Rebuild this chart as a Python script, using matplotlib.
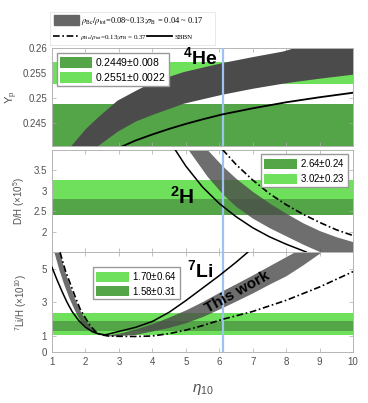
import numpy as np
import matplotlib.pyplot as plt
from matplotlib.patches import Patch, Rectangle
from matplotlib.lines import Line2D
from matplotlib.font_manager import FontProperties

plt.rcParams['font.family'] = ['Liberation Sans', 'DejaVu Sans']
plt.rcParams['mathtext.fontset'] = 'custom'
plt.rcParams['mathtext.rm'] = 'Liberation Sans'
plt.rcParams['mathtext.it'] = 'Liberation Sans:italic'
plt.rcParams['mathtext.bf'] = 'Liberation Sans:bold'

# ---- data ----
eta_ticks = [1, 2, 3, 4, 5, 6, 7, 8, 9, 10]
eta_obs = 6.1

# 4He
he_band_labels = ['0.2449$\\pm$0.008', '0.2551$\\pm$0.0022']
he_band_lo = [0.2369, 0.2529]
he_band_hi = [0.2489, 0.2573]
he_sbbn_eta = [3.09, 3.5, 4.0, 4.5, 5.0, 5.5, 6.1, 7.0, 8.0, 9.0, 10.0]
he_sbbn = [0.2404, 0.2416, 0.2428, 0.2439, 0.2449, 0.2458, 0.2468, 0.2480, 0.2492, 0.2502, 0.2511]
he_eta = [1.54, 2.0, 2.35, 2.94, 3.5, 4.0, 4.92, 5.43, 6.08, 7.0, 7.9, 8.2, 9.0, 10.0]
he_up = [0.2404, 0.2440, 0.2462, 0.2496, 0.2516, 0.2533, 0.2553, 0.2561, 0.2571, 0.2583, 0.2594, 0.2600, 0.2610, 0.2622]
he_low = [0.2362, 0.2385, 0.2405, 0.2434, 0.2455, 0.2468, 0.2490, 0.2498, 0.2508, 0.2520, 0.2530, 0.2533, 0.2540, 0.2548]

# D/H
dh_band_labels = ['2.64$\\pm$0.24', '3.02$\\pm$0.23']
dh_band_lo = [2.40, 2.79]
dh_band_hi = [2.88, 3.25]
dh_sbbn_eta = [4.68, 5.0, 5.5, 6.0, 6.5, 7.0, 7.5, 8.0, 8.6]
dh_sbbn = [4.0, 3.60, 3.09, 2.69, 2.37, 2.10, 1.88, 1.70, 1.51]
dh_dd_eta = [6.1, 6.5, 7.0, 7.5, 8.0, 8.5, 9.0, 9.5, 10.0]
dh_dd = [4.0, 3.64, 3.26, 2.93, 2.66, 2.43, 2.23, 2.05, 1.91]
dh_eta = [5.07, 5.64, 6.1, 6.5, 7.0, 7.5, 8.0, 8.5, 9.0, 9.5, 10.0]
dh_up = [4.66, 4.0, 3.6, 3.3, 2.98, 2.7, 2.45, 2.22, 2.03, 1.88, 1.76]
dh_low = [4.0, 3.35, 2.92, 2.62, 2.33, 2.1, 1.9, 1.7, 1.52, 1.38, 1.25]

# 7Li
li_band_labels = ['1.70$\\pm$0.64', '1.58$\\pm$0.31']
li_band_lo = [1.06, 1.27]
li_band_hi = [2.34, 1.89]
li_sbbn_eta = [1.0, 1.15, 1.3, 1.45, 1.6, 1.8, 2.0, 2.2, 2.4, 2.6, 3.0, 3.5, 4.0, 4.5, 5.0, 5.5, 6.0, 6.5, 6.85]
li_sbbn = [5.1, 4.35, 3.65, 3.0, 2.45, 1.9, 1.5, 1.25, 1.1, 1.05, 1.25, 1.5, 1.85, 2.4, 3.1, 3.85, 4.6, 5.4, 6.0]
li_dd_eta = [1.24, 1.4, 1.54, 1.7, 1.84, 2.0, 2.14, 2.3, 2.45, 2.7, 3.0, 3.5, 4.0, 4.5, 5.0, 5.5, 6.1, 7.0, 8.0, 9.0, 10.0]
li_dd = [6.0, 4.9, 4.15, 3.3, 2.6, 2.05, 1.6, 1.25, 1.05, 0.98, 0.96, 0.95, 0.98, 1.12, 1.33, 1.6, 1.98, 2.45, 3.12, 3.92, 4.84]
# left (falling) part of the grey band, as eta range at each Li value
li_left_y = [6.0, 5.0, 4.15, 3.3, 2.54, 1.9, 1.44, 1.2, 1.05]
li_left_a = [1.06, 1.2, 1.34, 1.5, 1.67, 1.84, 2.02, 2.2, 2.45]
li_left_b = [1.22, 1.36, 1.5, 1.66, 1.83, 2.0, 2.18, 2.35, 2.65]
# right (rising) part
li_eta = [2.6, 3.0, 3.5, 4.0, 4.5, 5.0, 5.5, 6.0, 6.5, 7.0, 7.5, 8.0, 8.5, 9.0, 9.3]
li_up = [1.02, 1.15, 1.4, 1.72, 2.12, 2.55, 3.05, 3.6, 4.12, 4.65, 5.2, 5.75, 6.3, 6.8, 7.1]
li_low = [0.98, 1.0, 1.08, 1.28, 1.5, 1.78, 2.15, 2.6, 3.08, 3.57, 4.1, 4.6, 5.25, 5.95, 6.35]

dark_green = '#53a548'
light_green = '#6fe05b'
grey = '#4a4a4a'
blue = '#9ec3f0'
tick_col = '#505050'
dashdot = (0, (4, 1.6, 1, 1.6))

fig = plt.figure(figsize=(3.68, 4.03), dpi=100)
ax1 = fig.add_axes([0.1413, 0.6377, 0.818, 0.2432])
ax2 = fig.add_axes([0.1413, 0.3737, 0.818, 0.2551])
ax3 = fig.add_axes([0.1413, 0.1258, 0.818, 0.2481])

leg_kw = dict(handleheight=1.2, borderpad=0.3, labelspacing=0.25, handletextpad=0.3,
              fancybox=False, edgecolor='#999999', framealpha=1)

# 4He
ax1.axhspan(he_band_lo[0], he_band_hi[0], color=dark_green, lw=0, label=he_band_labels[0], zorder=1)
ax1.axhspan(he_band_lo[1], he_band_hi[1], color=light_green, lw=0, label=he_band_labels[1], zorder=1)
ax1.fill_between(he_eta, he_low, he_up, color='#4b4b4b', lw=0, zorder=2)
ax1.plot(he_sbbn_eta, he_sbbn, color='k', lw=1.3, zorder=4)
ax1.set_ylim(0.2405, 0.26)
ax1.set_yticks([0.245, 0.25, 0.255, 0.26])
ax1.set_yticklabels(['0.245', '0.25', '0.255', '0.26'])
ax1.set_ylabel('Y$_{\\rm p}$', color=tick_col, fontsize=8)
ax1.yaxis.set_label_coords(-0.105, 0.5)
ax1.text(5.43, 0.2581, '$^{\\bf 4}$He', fontsize=14, fontweight='bold', ha='center', va='center', zorder=6)
ax1.legend(loc='upper left', fontsize=7.5, handlelength=3.0, **leg_kw).set_zorder(7)

# D/H
ax2.axhspan(dh_band_lo[0], dh_band_hi[0], color=dark_green, lw=0, label=dh_band_labels[0], zorder=1)
ax2.axhspan(dh_band_lo[1], dh_band_hi[1], color=light_green, lw=0, label=dh_band_labels[1], zorder=1)
ax2.fill_between(dh_eta, dh_low, dh_up, color=grey, alpha=0.8, lw=0, zorder=2)
ax2.plot(dh_sbbn_eta, dh_sbbn, color='k', lw=1.1, zorder=4)
ax2.plot(dh_dd_eta, dh_dd, color='k', lw=1.2, ls=dashdot, zorder=4)
ax2.set_ylim(1.5, 4.0)
ax2.set_yticks([2, 2.5, 3, 3.5])
ax2.set_yticklabels(['2', '2.5', '3', '3.5'])
ax2.set_ylabel('D/H ($\\times10^{5}$)', color=tick_col, fontsize=7)
ax2.yaxis.set_label_coords(-0.083, 0.5)
ax2.text(4.9, 2.86, '$^{\\bf 2}$H', fontsize=15, fontweight='bold', ha='center', va='center', zorder=6)
ax2.legend(loc='upper right', fontsize=7, handlelength=3.4, **leg_kw).set_zorder(7)

# 7Li
ax3.axhspan(li_band_lo[0], li_band_hi[0], color=light_green, lw=0, label=li_band_labels[0], zorder=1)
ax3.axhspan(li_band_lo[1], li_band_hi[1], color=dark_green, lw=0, label=li_band_labels[1], zorder=1)
ax3.fill_betweenx(li_left_y, li_left_a, li_left_b, color=grey, alpha=0.8, lw=0, zorder=2)
ax3.fill_between(li_eta, li_low, li_up, color=grey, alpha=0.8, lw=0, zorder=2)
ax3.plot(li_sbbn_eta, li_sbbn, color='k', lw=1.1, zorder=4)
ax3.plot(li_dd_eta, li_dd, color='k', lw=1.2, ls=dashdot, zorder=4)
ax3.set_ylim(0, 6)
ax3.set_yticks([0, 1, 3, 5])
ax3.set_ylabel('$^{7}$Li/H ($\\times10^{10}$)', color=tick_col, fontsize=7)
ax3.yaxis.set_label_coords(-0.075, 0.5)
ax3.set_xlabel('$\\eta_{10}$', color=tick_col, fontsize=11)
ax3.xaxis.set_label_coords(0.5, -0.3)
ax3.text(5.43, 4.95, '$^{\\bf 7}$Li', fontsize=14, fontweight='bold', ha='center', va='center', zorder=6)
ax3.text(6.55, 3.6, 'This work', fontsize=11, fontweight='bold', rotation=29,
         ha='center', va='center', zorder=6)
ax3.legend(loc='upper left', bbox_to_anchor=(0.12, 0.9), fontsize=7, handlelength=3.4, **leg_kw).set_zorder(7)

for ax in (ax1, ax2, ax3):
    ax.axvline(eta_obs, color=blue, lw=1.6, zorder=3)
    ax.set_xlim(1, 10)
    ax.set_xticks(eta_ticks)
    ax.tick_params(direction='in', top=True, right=True, length=3, width=0.5,
                   labelsize=7, colors='#aaaaaa', labelcolor=tick_col)
    for s in ax.spines.values():
        s.set_color('#b5b5b5')
        s.set_linewidth(0.7)
ax1.tick_params(labelbottom=False)
ax2.tick_params(labelbottom=False)

# legend for the models, above the top panel
serif = FontProperties(family='Liberation Serif', size=6, math_fontfamily='stix')
serif_small = FontProperties(family='Liberation Serif', size=5, math_fontfamily='stix')
fig.legend(handles=[Patch(color='#666666')],
           labels=['$\\rho_{\\rm Bc}/\\rho_{\\rm tot}$=0.08~0.13;$\\sigma_{\\rm B}$ = 0.04 ~ 0.17'],
           loc='center left', bbox_to_anchor=(0.135, 0.948), prop=serif, frameon=False,
           handlelength=3.0, handleheight=1.5, handletextpad=0.3, borderpad=0)
fig.legend(handles=[Line2D([], [], color='k', ls=dashdot, lw=1.2), Line2D([], [], color='k', lw=1.3)],
           labels=['$\\rho_{\\rm Bc}/\\rho_{\\rm tot}$=0.13;$\\sigma_{\\rm B}$ = 0.37', 'SBBN'],
           loc='center left', bbox_to_anchor=(0.135, 0.908), prop=serif_small, frameon=False, ncol=2,
           handlelength=3.6, handletextpad=0.3, columnspacing=0.0, borderpad=0)
fig.add_artist(Rectangle((50 / 368, 1 - 45 / 403), 165 / 368, 33 / 403, transform=fig.transFigure,
                         fill=False, edgecolor='#e4e4e4', lw=0.6))

plt.savefig('out.png', dpi=100)
